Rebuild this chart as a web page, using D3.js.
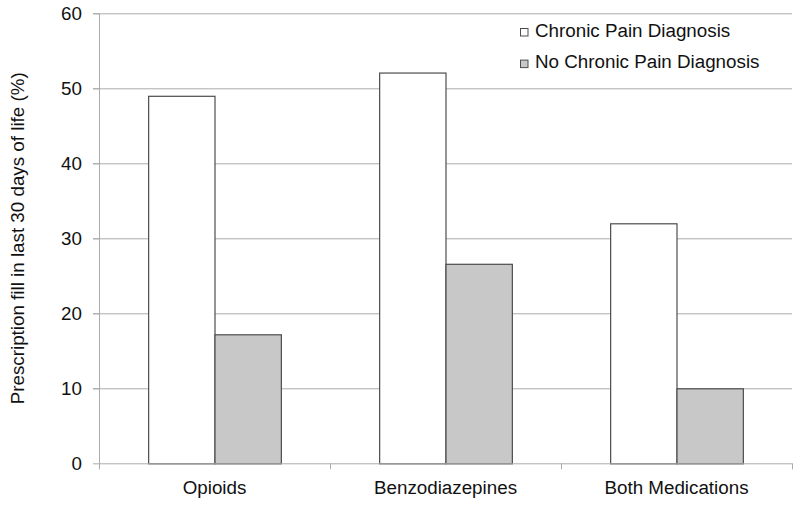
<!DOCTYPE html>
<html>
<head>
<meta charset="utf-8">
<script src="https://cdn.jsdelivr.net/npm/d3@7"></script>
<style>
  body { margin: 0; background: #fff; }
  text { font-family: "Liberation Sans", Arial, sans-serif; fill: #111; }
</style>
</head>
<body>
<svg id="chart" width="800" height="506"></svg>
<script>
var categories = ["Opioids", "Benzodiazepines", "Both Medications"];
var seriesNames = ["Chronic Pain Diagnosis", "No Chronic Pain Diagnosis"];
var chronicPain = [49.0, 52.1, 32.0];
var noChronicPain = [17.2, 26.6, 10.0];
var yTicks = [0, 10, 20, 30, 40, 50, 60];

var svg = d3.select("#chart"),
  margin = { top: 13.3, right: 8, bottom: 42.7, left: 99 },
  width = 800 - margin.left - margin.right,
  height = 506 - margin.top - margin.bottom;

var colors = ["#ffffff", "#c8c8c8"];
var fontSize = "18.8px";

var g = svg.append("g").attr("transform", "translate(" + margin.left + "," + margin.top + ")");

var x0 = d3.scaleBand().domain(categories).range([0, width]).paddingInner(0.4255).paddingOuter(0.21275);
var x1 = d3.scaleBand().domain(seriesNames).range([0, x0.bandwidth()]);
var y = d3.scaleLinear().domain([0, 60]).range([height, 0]);

// gridlines
g.append("g")
  .selectAll("line")
  .data(yTicks.filter(function (d) { return d > 0; }))
  .enter().append("line")
  .attr("x1", -6).attr("x2", width)
  .attr("y1", function (d) { return y(d) + 0.5; })
  .attr("y2", function (d) { return y(d) + 0.5; })
  .attr("stroke", "#ababab");

// y axis
var yAxis = g.append("g")
  .call(d3.axisLeft(y).tickValues(yTicks).tickSize(6).tickPadding(11));
yAxis.select(".domain").attr("stroke", "#ababab").attr("d", "M0.5," + height + "V0");
yAxis.selectAll(".tick line").attr("stroke", "#ababab");
yAxis.selectAll("text").style("font-size", fontSize).attr("fill", "#111");

// bars
var rows = categories.map(function (c, i) {
  return { cat: c, vals: [chronicPain[i], noChronicPain[i]] };
});

g.append("g")
  .selectAll("g")
  .data(rows)
  .enter().append("g")
  .attr("transform", function (d) { return "translate(" + x0(d.cat) + ",0)"; })
  .selectAll("rect")
  .data(function (d) { return d.vals.map(function (v, j) { return { s: seriesNames[j], v: v, j: j }; }); })
  .enter().append("rect")
  .attr("x", function (d) { return x1(d.s) + 0.5; })
  .attr("y", function (d) { return y(d.v) + 0.5; })
  .attr("width", x1.bandwidth())
  .attr("height", function (d) { return height - y(d.v); })
  .attr("fill", function (d) { return colors[d.j]; })
  .attr("stroke", "#4d4d4d")
  .attr("stroke-width", 1.2);

// x axis
var xAxisG = g.append("g").attr("transform", "translate(0," + height + ")");
xAxisG.append("line")
  .attr("x1", 0).attr("x2", width)
  .attr("y1", 0.5).attr("y2", 0.5)
  .attr("stroke", "#ababab");
xAxisG.selectAll(".xt")
  .data(d3.range(categories.length + 1))
  .enter().append("line")
  .attr("x1", function (i) { return Math.round(i * x0.step()) + 0.5; })
  .attr("x2", function (i) { return Math.round(i * x0.step()) + 0.5; })
  .attr("y1", 0).attr("y2", 6)
  .attr("stroke", "#ababab");
xAxisG.selectAll(".xl")
  .data(categories)
  .enter().append("text")
  .attr("x", function (d) { return x0(d) + x0.bandwidth() / 2; })
  .attr("y", 31)
  .attr("text-anchor", "middle")
  .style("font-size", fontSize)
  .text(function (d) { return d; });

// y title
svg.append("text")
  .attr("transform", "translate(24," + (margin.top + height / 2) + ") rotate(-90)")
  .attr("text-anchor", "middle")
  .style("font-size", fontSize)
  .text("Prescription fill in last 30 days of life (%)");

// legend
var legend = svg.append("g").attr("transform", "translate(520,36.7)");
var li = legend.selectAll("g")
  .data(seriesNames)
  .enter().append("g")
  .attr("transform", function (d, i) { return "translate(0," + (i * 31.6) + ")"; });
li.append("rect")
  .attr("x", 0.5).attr("y", -8.2)
  .attr("width", 7.5).attr("height", 7.5)
  .attr("fill", function (d, i) { return colors[i]; })
  .attr("stroke", "#4d4d4d");
li.append("text")
  .attr("x", 15).attr("y", 0)
  .style("font-size", fontSize)
  .text(function (d) { return d; });
</script>
</body>
</html>
